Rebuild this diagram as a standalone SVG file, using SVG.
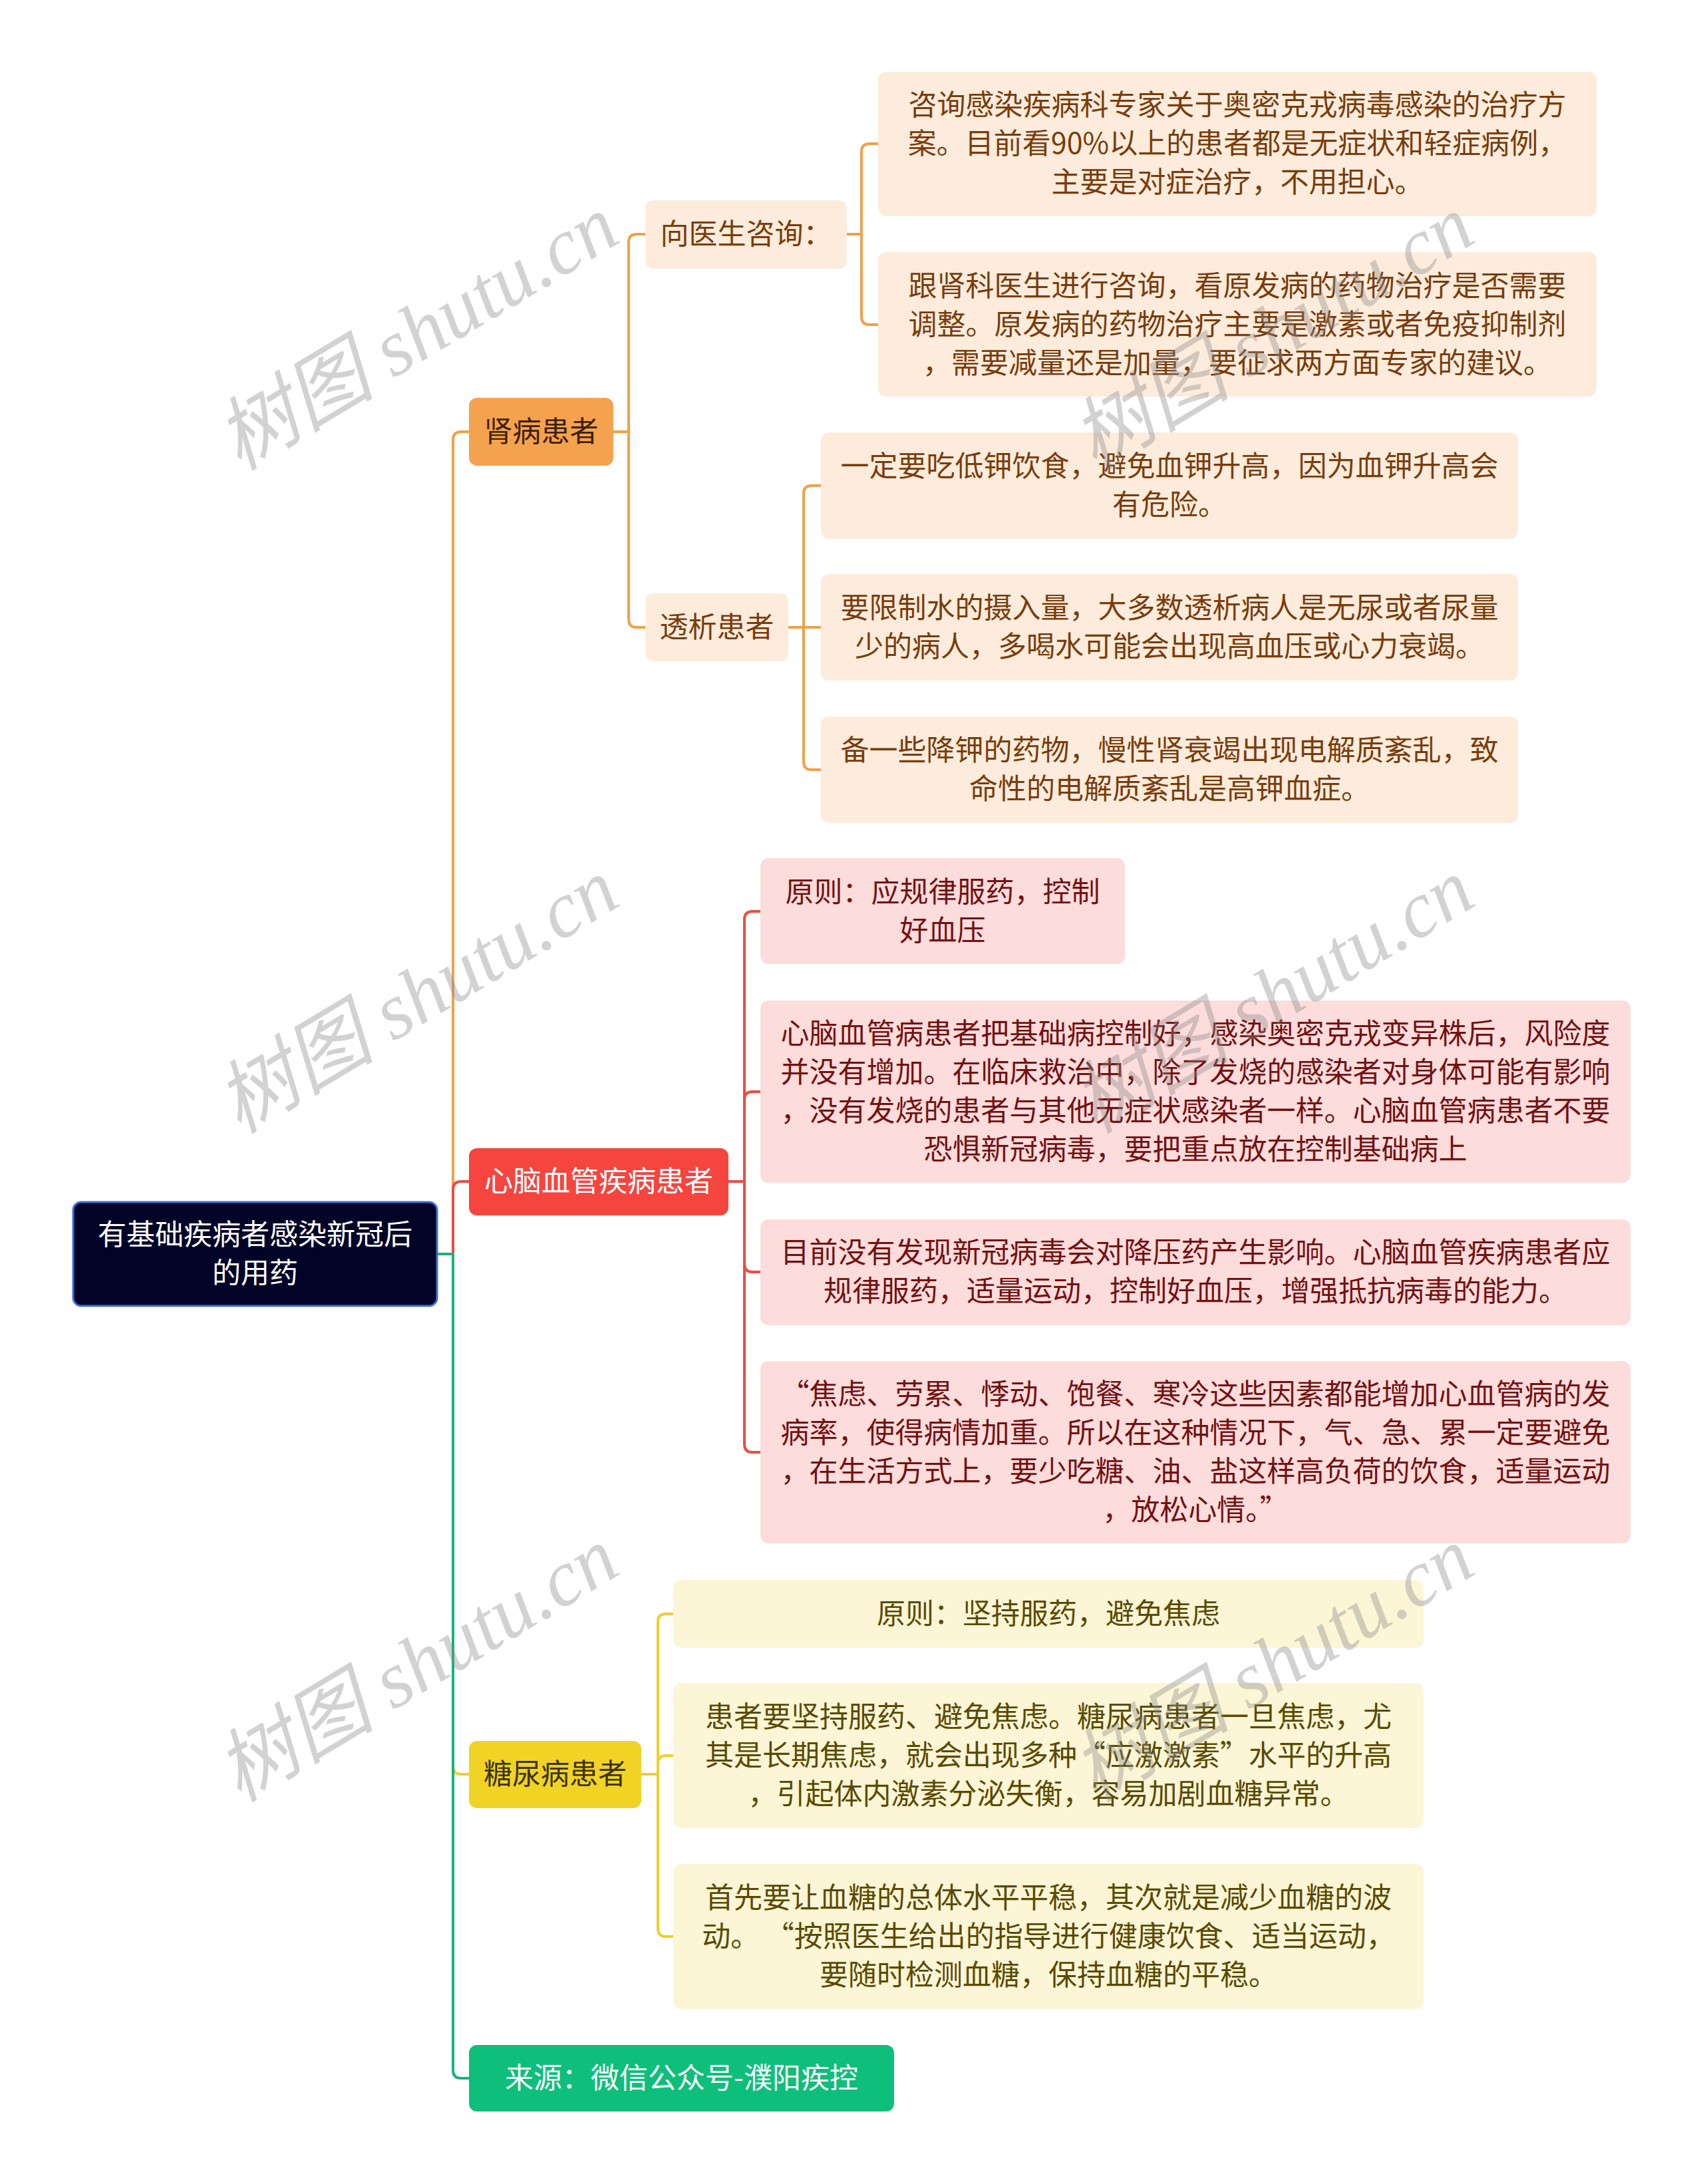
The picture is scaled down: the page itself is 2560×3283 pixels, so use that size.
<svg xmlns="http://www.w3.org/2000/svg" width="2560" height="3283" viewBox="0 0 2560 3283">
<style>
text{font-family:"Noto Sans CJK SC","Noto Sans",sans-serif;font-size:43px;text-anchor:middle}
.ln{fill:none;stroke-width:4;stroke-linecap:round;stroke-linejoin:round}
.lo{stroke:#f2a04a}.lr{stroke:#ee4b43}.ly{stroke:#f0cf2a}.lg{stroke:#12b57a}
.so{fill:#fdecdc}.to{fill:#7a3c0c}
.sr{fill:#fddcdc}.tr{fill:#741111}
.sy{fill:#fcf5d6}.ty{fill:#5a4a00}
.wm{font-family:"Liberation Serif","Noto Sans CJK SC",serif;font-style:italic;font-size:120px;fill:#8a8a8a;fill-opacity:0.38}
</style>
<rect width="2560" height="3283" fill="#ffffff"/>
<g id="connectors">
<path class="ln lo" d="M658 1885 H681 V661 Q681 649 693 649 H705"/>
<path class="ln lr" d="M658 1885 H681 V1788 Q681 1776 693 1776 H705"/>
<path class="ln ly" d="M658 1885 H681 V2655 Q681 2667 693 2667 H705"/>
<path class="ln lg" d="M658 1885 H681 V3112 Q681 3124 693 3124 H705"/>
<path class="ln lo" d="M922 649 H945 V364 Q945 352 957 352 H970"/>
<path class="ln lo" d="M922 649 H945 V931 Q945 943 957 943 H970"/>
<path class="ln lo" d="M1273 352 H1295 V228 Q1295 216 1307 216 H1320"/>
<path class="ln lo" d="M1273 352 H1295 V476 Q1295 488 1307 488 H1320"/>
<path class="ln lo" d="M1185 943 H1208 V742 Q1208 730 1220 730 H1234"/>
<path class="ln lo" d="M1185 943 H1234"/>
<path class="ln lo" d="M1185 943 H1208 V1145 Q1208 1157 1220 1157 H1234"/>
<path class="ln lr" d="M1095 1776 H1119 V1382 Q1119 1370 1131 1370 H1143"/>
<path class="ln lr" d="M1095 1776 H1119 V1653 Q1119 1641 1131 1641 H1143"/>
<path class="ln lr" d="M1095 1776 H1119 V1900 Q1119 1912 1131 1912 H1143"/>
<path class="ln lr" d="M1095 1776 H1119 V2171 Q1119 2183 1131 2183 H1143"/>
<path class="ln ly" d="M964 2667 H989 V2438 Q989 2426 1001 2426 H1012"/>
<path class="ln ly" d="M964 2667 H989 V2651 Q989 2639 1001 2639 H1012"/>
<path class="ln ly" d="M964 2667 H989 V2899 Q989 2911 1001 2911 H1012"/>
</g>
<g id="root">
<rect x="110" y="1807" width="547" height="156" rx="12" fill="#020427" stroke="#3d6fd8" stroke-width="3"/>
<text x="383.5" y="1871" fill="#ffffff">有基础疾病者感染新冠后</text>
<text x="383.5" y="1929" fill="#ffffff">的用药</text>
</g>
<g id="n-kidney">
<rect x="705" y="598" width="217" height="102" rx="12" fill="#f4a24d"/>
<text x="813.5" y="664" fill="#3d1f00">肾病患者</text>
</g>
<g id="n-consult">
<rect x="970" y="301" width="303" height="103" rx="12" class="so"/>
<text x="1121.5" y="367" class="to">向医生咨询：</text>
</g>
<g id="n-consult-1">
<rect x="1320" y="108" width="1080" height="217" rx="12" class="so"/>
<text x="1860" y="173" class="to">咨询感染疾病科专家关于奥密克戎病毒感染的治疗方</text>
<text x="1860" y="231" class="to">案。目前看90%以上的患者都是无症状和轻症病例，</text>
<text x="1860" y="289" class="to">主要是对症治疗，不用担心。</text>
</g>
<g id="n-consult-2">
<rect x="1320" y="379" width="1080" height="217" rx="12" class="so"/>
<text x="1860" y="445" class="to">跟肾科医生进行咨询，看原发病的药物治疗是否需要</text>
<text x="1860" y="503" class="to">调整。原发病的药物治疗主要是激素或者免疫抑制剂</text>
<text x="1860" y="561" class="to">，需要减量还是加量，要征求两方面专家的建议。</text>
</g>
<g id="n-dialysis">
<rect x="970" y="892" width="215" height="102" rx="12" class="so"/>
<text x="1077.5" y="958" class="to">透析患者</text>
</g>
<g id="n-dialysis-1">
<rect x="1234" y="650" width="1048" height="160" rx="12" class="so"/>
<text x="1758" y="716" class="to">一定要吃低钾饮食，避免血钾升高，因为血钾升高会</text>
<text x="1758" y="774" class="to">有危险。</text>
</g>
<g id="n-dialysis-2">
<rect x="1234" y="863" width="1048" height="160" rx="12" class="so"/>
<text x="1758" y="929" class="to">要限制水的摄入量，大多数透析病人是无尿或者尿量</text>
<text x="1758" y="987" class="to">少的病人，多喝水可能会出现高血压或心力衰竭。</text>
</g>
<g id="n-dialysis-3">
<rect x="1234" y="1077" width="1048" height="160" rx="12" class="so"/>
<text x="1758" y="1143" class="to">备一些降钾的药物，慢性肾衰竭出现电解质紊乱，致</text>
<text x="1758" y="1201" class="to">命性的电解质紊乱是高钾血症。</text>
</g>
<g id="n-cardio">
<rect x="705" y="1726" width="390" height="101" rx="12" fill="#f5453e"/>
<text x="900" y="1791" fill="#ffffff">心脑血管疾病患者</text>
</g>
<g id="n-cardio-1">
<rect x="1143" y="1290" width="548" height="159" rx="12" class="sr"/>
<text x="1417" y="1356" class="tr">原则：应规律服药，控制</text>
<text x="1417" y="1414" class="tr">好血压</text>
</g>
<g id="n-cardio-2">
<rect x="1143" y="1504" width="1308" height="274" rx="12" class="sr"/>
<text x="1797" y="1569" class="tr">心脑血管病患者把基础病控制好，感染奥密克戎变异株后，风险度</text>
<text x="1797" y="1627" class="tr">并没有增加。在临床救治中，除了发烧的感染者对身体可能有影响</text>
<text x="1797" y="1685" class="tr">，没有发烧的患者与其他无症状感染者一样。心脑血管病患者不要</text>
<text x="1797" y="1743" class="tr">恐惧新冠病毒，要把重点放在控制基础病上</text>
</g>
<g id="n-cardio-3">
<rect x="1143" y="1833" width="1308" height="159" rx="12" class="sr"/>
<text x="1797" y="1898" class="tr">目前没有发现新冠病毒会对降压药产生影响。心脑血管疾病患者应</text>
<text x="1797" y="1956" class="tr">规律服药，适量运动，控制好血压，增强抵抗病毒的能力。</text>
</g>
<g id="n-cardio-4">
<rect x="1143" y="2046" width="1308" height="274" rx="12" class="sr"/>
<text x="1797" y="2111" class="tr">“焦虑、劳累、悸动、饱餐、寒冷这些因素都能增加心血管病的发</text>
<text x="1797" y="2169" class="tr">病率，使得病情加重。所以在这种情况下，气、急、累一定要避免</text>
<text x="1797" y="2227" class="tr">，在生活方式上，要少吃糖、油、盐这样高负荷的饮食，适量运动</text>
<text x="1797" y="2285" class="tr">，放松心情。”</text>
</g>
<g id="n-diabetes">
<rect x="705" y="2617" width="259" height="101" rx="12" fill="#f1d326"/>
<text x="834.5" y="2682" fill="#3d3300">糖尿病患者</text>
</g>
<g id="n-diabetes-1">
<rect x="1012" y="2375" width="1128" height="102" rx="12" class="sy"/>
<text x="1576" y="2441" class="ty">原则：坚持服药，避免焦虑</text>
</g>
<g id="n-diabetes-2">
<rect x="1012" y="2530" width="1128" height="218" rx="12" class="sy"/>
<text x="1576" y="2596" class="ty">患者要坚持服药、避免焦虑。糖尿病患者一旦焦虑，尤</text>
<text x="1576" y="2654" class="ty">其是长期焦虑，就会出现多种“应激激素”水平的升高</text>
<text x="1576" y="2712" class="ty">，引起体内激素分泌失衡，容易加剧血糖异常。</text>
</g>
<g id="n-diabetes-3">
<rect x="1012" y="2802" width="1128" height="218" rx="12" class="sy"/>
<text x="1576" y="2868" class="ty">首先要让血糖的总体水平平稳，其次就是减少血糖的波</text>
<text x="1576" y="2926" class="ty">动。 “按照医生给出的指导进行健康饮食、适当运动，</text>
<text x="1576" y="2984" class="ty">要随时检测血糖，保持血糖的平稳。</text>
</g>
<g id="n-source">
<rect x="705" y="3074" width="639" height="100" rx="12" fill="#0dbf7a"/>
<text x="1024.5" y="3139" fill="#ffffff">来源：微信公众号-濮阳疾控</text>
</g>
<g id="watermarks">
<text class="wm" transform="translate(648,535) rotate(-31)">树图 shutu.cn</text>
<text class="wm" transform="translate(648,1532) rotate(-31)">树图 shutu.cn</text>
<text class="wm" transform="translate(648,2537) rotate(-31)">树图 shutu.cn</text>
<text class="wm" transform="translate(1934,535) rotate(-31)">树图 shutu.cn</text>
<text class="wm" transform="translate(1934,1532) rotate(-31)">树图 shutu.cn</text>
<text class="wm" transform="translate(1934,2537) rotate(-31)">树图 shutu.cn</text>
</g>
</svg>
